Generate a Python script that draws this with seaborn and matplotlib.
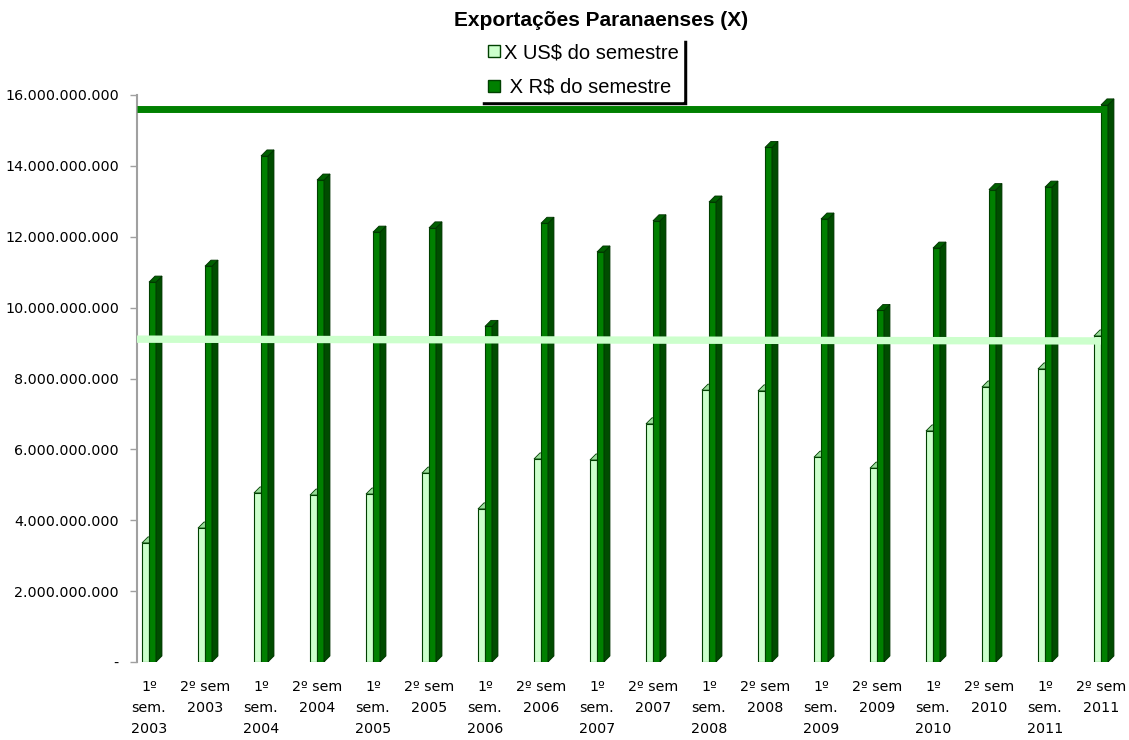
import numpy as np
import pandas as pd
import matplotlib
matplotlib.use("Agg")
import matplotlib.pyplot as plt
import seaborn as sns
from matplotlib.ticker import FuncFormatter

# semestres
categorias = [
    "1º\nsem.\n2003", "2º sem\n2003", "1º\nsem.\n2004", "2º sem\n2004",
    "1º\nsem.\n2005", "2º sem\n2005", "1º\nsem.\n2006", "2º sem\n2006",
    "1º\nsem.\n2007", "2º sem\n2007", "1º\nsem.\n2008", "2º sem\n2008",
    "1º\nsem.\n2009", "2º sem\n2009", "1º\nsem.\n2010", "2º sem\n2010",
    "1º\nsem.\n2011", "2º sem\n2011",
]
x_us = [3.36e9, 3.78e9, 4.77e9, 4.71e9, 4.74e9, 5.33e9, 4.32e9, 5.73e9, 5.70e9,
        6.72e9, 7.67e9, 7.65e9, 5.78e9, 5.47e9, 6.52e9, 7.76e9, 8.27e9, 9.20e9]
x_rs = [10.72e9, 11.17e9, 14.28e9, 13.60e9, 12.13e9, 12.25e9, 9.47e9, 12.38e9, 11.57e9,
        12.45e9, 12.98e9, 14.52e9, 12.50e9, 9.92e9, 11.68e9, 13.33e9, 13.40e9, 15.72e9]
# linhas horizontais (topo do ultimo semestre)
linha_rs = [15.60e9, 15.60e9]
linha_us = [9.11e9, 9.06e9]

lab_us = "X US$ do semestre"
lab_rs = " X R$ do semestre"
cor_us = "#CCFFCC"
cor_rs = "#008000"

df = pd.DataFrame({
    "semestre": categorias * 2,
    "valor": x_us + x_rs,
    "serie": [lab_us] * len(categorias) + [lab_rs] * len(categorias),
})

sns.set_theme(style="white")
plt.rcParams["font.family"] = ["DejaVu Sans"]
plt.rcParams["text.color"] = "black"

fig = plt.figure(figsize=(11.29, 7.40), dpi=100)
ax = fig.add_axes([137 / 1129, 1 - 662 / 740, (1120 - 137) / 1129, (662 - 95) / 740])

sns.barplot(data=df, x="semestre", y="valor", hue="serie", order=categorias,
            hue_order=[lab_us, lab_rs], palette={lab_us: cor_us, lab_rs: cor_rs},
            width=0.25, gap=0, dodge=True, saturation=1, ax=ax, zorder=3)
if ax.get_legend() is not None:
    ax.get_legend().remove()

for p in ax.patches:
    p.set_edgecolor("#004000")
    p.set_linewidth(0.8)

# faces 3D (profundidade)
dx = 0.107
dy = 0.17e9
for i, (vu, vr) in enumerate(zip(x_us, x_rs)):
    ax.fill([i - 0.125, i - 0.125 + dx, i + dx, i], [vu, vu + dy, vu + dy, vu],
            color="#99DD99", ec="#004000", lw=0.6, zorder=2)
    xr = i + 0.125
    ax.fill([xr, xr + dx, xr + dx, xr], [0, dy, vr + dy, vr],
            color="#004C00", ec="#003300", lw=0.6, zorder=3)
    ax.fill([i, i + dx, xr + dx, xr], [vr, vr + dy, vr + dy, vr],
            color="#006000", ec="#003300", lw=0.6, zorder=3)

xmin = -0.214
ax.plot([xmin, 17.02], linha_rs, color=cor_rs, lw=5, solid_capstyle="butt", zorder=4)
ax.plot([xmin, 17.0], linha_us, color=cor_us, lw=5.3, solid_capstyle="butt", zorder=4)

ax.set_xlim(xmin, 17.34)
ax.set_ylim(0, 16e9)
ax.set_yticks(np.arange(0, 16.1e9, 2e9))
ax.yaxis.set_major_formatter(FuncFormatter(
    lambda v, _: "-" if v == 0 else f"{v:,.0f}".replace(",", ".")))
ax.tick_params(axis="y", left=True, length=5, width=1, color="#A0A0A0",
               labelsize=10.3, pad=8, labelcolor="black")
ax.tick_params(axis="x", bottom=False, labelsize=10.3, pad=7, labelcolor="black")
for t in ax.get_xticklabels():
    t.set_linespacing(1.62)
    t.set_verticalalignment("top")
ax.set_xlabel("")
ax.set_ylabel("")
for s in ["top", "right", "bottom"]:
    ax.spines[s].set_visible(False)
ax.spines["left"].set_color("#A0A0A0")
ax.spines["left"].set_linewidth(1.5)

fig.text(0.532, 1 - 20 / 740, "Exportações Paranaenses (X)", ha="center", va="center",
         fontsize=15, fontweight="bold", family="Liberation Sans", color="black")

handles = [plt.Line2D([], [], marker="s", ls="", markersize=8, markerfacecolor=c,
                      markeredgecolor="#004000") for c in (cor_us, cor_rs)]
leg = fig.legend(handles, [lab_us, lab_rs], loc="center",
                 bbox_to_anchor=(582 / 1129, 1 - 70 / 740),
                 prop={"family": "Liberation Sans", "size": 14.5},
                 frameon=True, fancybox=False, edgecolor="white",
                 shadow={"color": "black", "alpha": 1, "lw": 2.5, "edgecolor": "black"},
                 handletextpad=0.1, handlelength=0.8, labelspacing=0.75, borderpad=0.2)
for t in leg.get_texts():
    t.set_color("black")

fig.savefig("out.png", dpi=100, facecolor="white")
